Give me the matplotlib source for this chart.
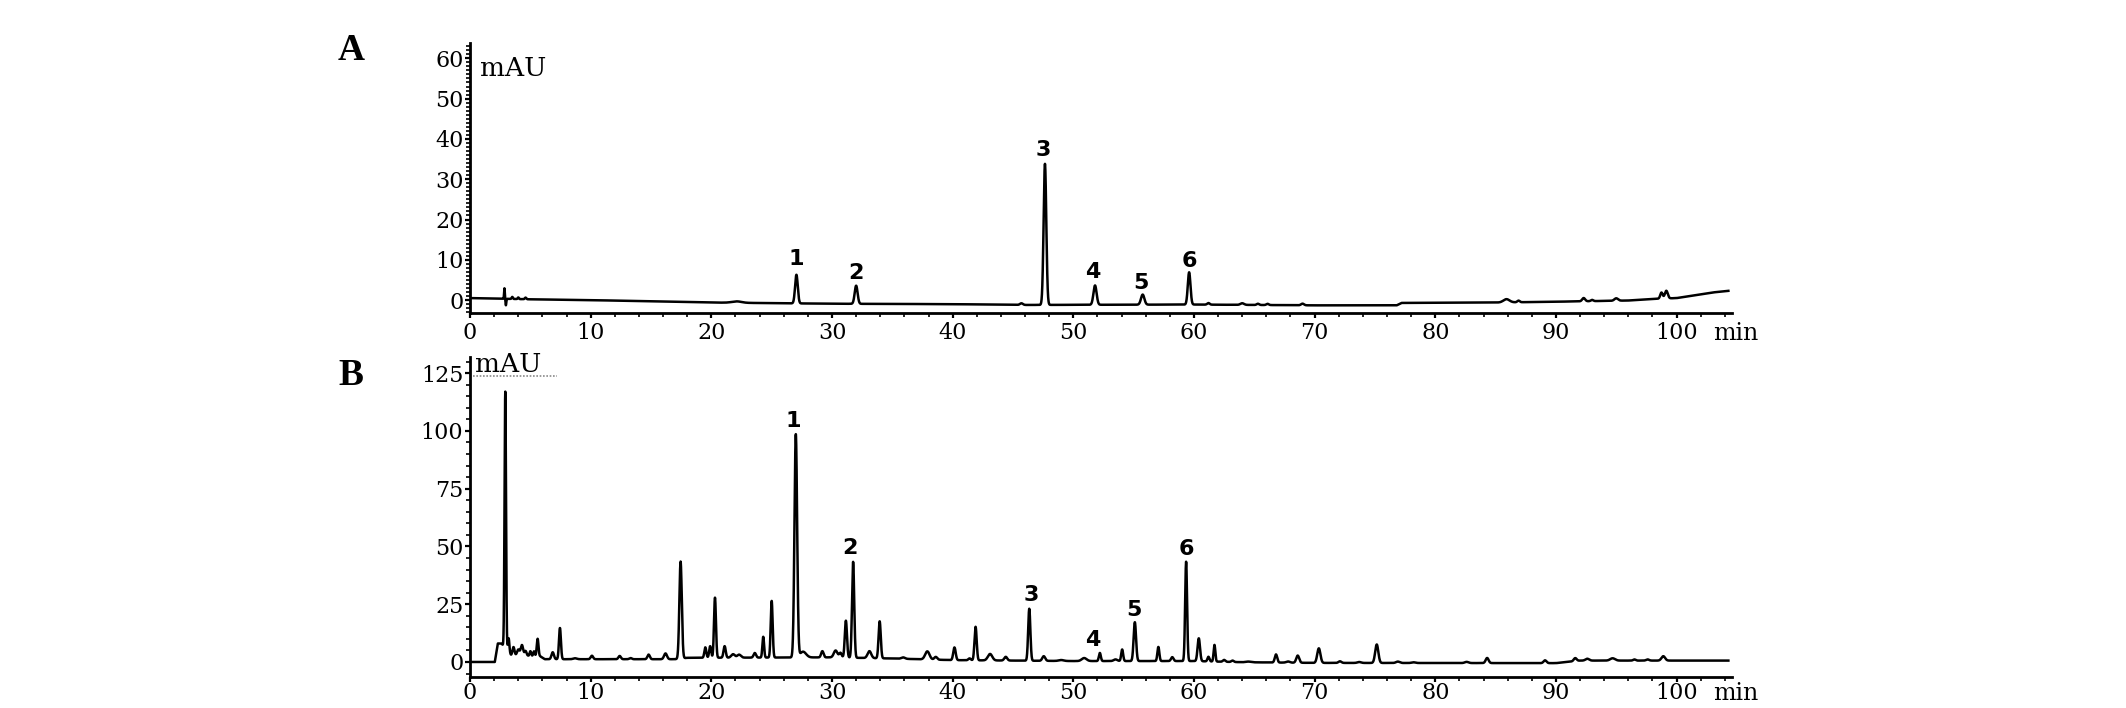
"""HPLC chromatograms: (A) mixed reference standards, (B) sample extract,
with the six marker compounds numbered on both traces.
"""

import matplotlib
matplotlib.use("Agg")
import matplotlib.pyplot as plt
import numpy as np
from matplotlib.lines import Line2D
from matplotlib.ticker import MultipleLocator

# ---- panel A: standards (retention time min, height mAU, sigma min) ----
A_RT = [2.85, 2.97, 3.5, 4.0, 4.6, 22.1, 27.05, 32.0, 45.7, 47.65, 51.8,
        55.75, 59.6, 61.2, 64.0, 65.3, 66.1, 69.0, 85.9, 86.9, 92.3, 93.0,
        95.0, 98.75, 99.15]
A_HEIGHT = [2.6, -1.6, 0.5, 0.4, 0.4, 0.35, 7.1, 4.5, 0.4, 35.0, 4.8,
            2.5, 8.0, 0.4, 0.4, 0.3, 0.3, 0.4, 0.8, 0.4, 0.8, 0.3,
            0.6, 1.5, 1.9]
A_WIDTH = [0.03, 0.03, 0.05, 0.05, 0.06, 0.4, 0.11, 0.12, 0.12, 0.11, 0.13,
           0.14, 0.11, 0.1, 0.15, 0.1, 0.1, 0.12, 0.25, 0.1, 0.12, 0.1,
           0.15, 0.1, 0.12]
A_BASE_T = [0, 5, 10, 20, 25, 30, 40, 46, 60, 70, 76.8, 77.2, 85, 90, 96,
            98, 100, 102, 103, 104.3]
A_BASE_Y = [0.5, 0.2, 0.0, -0.6, -0.75, -0.9, -1.0, -1.2, -1.1, -1.3, -1.3,
            -0.7, -0.6, -0.4, -0.1, 0.3, 0.5, 1.4, 1.9, 2.3]
A_LABEL_T = [27.0, 32.0, 47.5, 51.6, 55.6, 59.6]
A_LABEL_Y = [10.3, 6.8, 37.2, 7.0, 4.2, 9.8]

# ---- panel B: sample extract ----
B_RT = [2.92, 3.2, 3.6, 4.0, 4.3, 4.6, 5.0, 5.3, 5.6, 6.85, 7.45, 8.7, 10.1,
        12.4, 13.3, 14.8, 16.2, 17.45, 19.5, 19.9, 20.3, 21.1, 21.8, 22.3,
        23.6, 24.3, 25.0, 27.0, 27.6, 29.2, 30.3, 30.7, 31.15, 31.75, 33.1,
        33.95, 35.9, 37.9, 38.6, 40.15, 41.4, 41.9, 43.1, 44.4, 46.35, 47.55,
        49.0, 50.9, 52.2, 53.5, 54.05, 55.1, 57.05, 58.2, 59.35, 60.4, 61.2,
        61.7, 62.5, 63.2, 64.5, 66.8, 67.8, 68.6, 70.35, 72.1, 73.7, 75.15,
        76.9, 78.2, 82.6, 84.3, 89.1, 91.6, 92.6, 94.7, 96.5, 97.6, 98.9]
B_HEIGHT = [111, 6, 3.5, 2.5, 4.5, 2, 2, 2, 7.5, 3, 13.5, 0.4, 1.5,
            1.4, 0.5, 2, 2.5, 42, 4.5, 5, 26, 5, 1.5, 1.3,
            2, 9, 24.5, 96.5, 2.5, 2.7, 3, 2, 16, 41.5, 3,
            16, 0.6, 3.5, 1.2, 5.5, 0.8, 14.5, 2.8, 1.6, 22.5, 2.0,
            0.4, 1.3, 3.5, 0.7, 5, 16.8, 6.1, 1.7, 43, 9.9, 2,
            7.2, 0.8, 0.6, 0.3, 3.5, 0.5, 3.1, 6.3, 0.7, 0.4, 8.0,
            0.6, 0.3, 0.5, 2.2, 1.2, 1.3, 0.8, 1.0, 0.5, 0.5, 1.9]
B_WIDTH = [0.06, 0.06, 0.08, 0.1, 0.1, 0.08, 0.06, 0.06, 0.07, 0.1, 0.08,
           0.15, 0.1, 0.1, 0.1, 0.1, 0.12, 0.1, 0.08, 0.08, 0.08, 0.09, 0.15,
           0.15, 0.1, 0.07, 0.08, 0.11, 0.25, 0.1, 0.15, 0.1, 0.09, 0.09,
           0.15, 0.09, 0.15, 0.18, 0.12, 0.1, 0.1, 0.09, 0.18, 0.12, 0.09,
           0.12, 0.2, 0.2, 0.08, 0.15, 0.08, 0.1, 0.08, 0.1, 0.08, 0.1, 0.08,
           0.07, 0.1, 0.1, 0.2, 0.1, 0.15, 0.12, 0.13, 0.12, 0.15, 0.13,
           0.15, 0.15, 0.15, 0.12, 0.12, 0.12, 0.15, 0.2, 0.1, 0.12, 0.15]
B_BASE_T = [0, 2.05, 2.3, 2.6, 3.4, 5.8, 6.2, 17, 18, 30, 35, 40, 50, 60,
            64, 70, 90, 92, 104.3]
B_BASE_Y = [0, 0, 8, 8, 3, 2.5, 1.2, 1.2, 1.8, 2.0, 1.5, 0.8, 0.4, 0.4,
            -0.1, -0.4, -0.5, 0.6, 0.6]
B_LABEL_T = [26.8, 31.5, 46.5, 51.6, 55.0, 59.4]
B_LABEL_Y = [104.4, 49.2, 28.9, 9.5, 22.3, 49.0]

PEAK_NAMES = ["1", "2", "3", "4", "5", "6"]

SERIF = "DejaVu Serif"
SANS_BOLD = "DejaVu Sans"
TICK_SIZE = 16


def chromatogram(t, rt, height, width, base_t, base_y):
    y = np.interp(t, base_t, base_y)
    for r, h, w in zip(rt, height, width):
        y = y + h * np.exp(-0.5 * ((t - r) / w) ** 2)
    return y


def style_axis(ax, ylim, yticks, yminor, xpad):
    ax.set_xlim(0, 104.6)
    ax.set_ylim(*ylim)
    for side in ("top", "right"):
        ax.spines[side].set_visible(False)
    for side in ("left", "bottom"):
        ax.spines[side].set_linewidth(2.0)
    ax.xaxis.set_minor_locator(MultipleLocator(2))
    ax.yaxis.set_minor_locator(MultipleLocator(yminor))
    ax.tick_params(which="major", direction="out", length=3.8, width=1.6,
                   labelsize=TICK_SIZE, color="black")
    ax.tick_params(which="minor", direction="out", length=2.6, width=1.2)
    ax.tick_params(axis="x", pad=xpad)
    ax.tick_params(axis="y", pad=1.0)
    xt = list(range(0, 101, 10))
    ax.set_xticks(xt)
    ax.set_xticklabels([str(v) for v in xt], family=SERIF)
    ax.set_yticks(yticks)
    ax.set_yticklabels([str(v) for v in yticks], family=SERIF)
    ax.patch.set_alpha(0)
    ax.annotate("min", xy=(103.0, 0), xycoords=("data", "axes fraction"),
                xytext=(0, -(3.8 + xpad)), textcoords="offset points",
                ha="left", va="top", fontsize=17, family=SERIF)


def main():
    fig = plt.figure(figsize=(21.26, 7.08), dpi=100)

    t = np.arange(0, 104.3, 0.005)
    y_a = chromatogram(t, A_RT, A_HEIGHT, A_WIDTH, A_BASE_T, A_BASE_Y)
    y_b = chromatogram(t, B_RT, B_HEIGHT, B_WIDTH, B_BASE_T, B_BASE_Y)

    ax_a = fig.add_axes([0.2211, 0.5579, 0.5936, 0.3814])
    ax_a.plot(t, y_a, color="black", lw=1.8)
    style_axis(ax_a, (-3.2, 63.8), list(range(0, 61, 10)), 1, 3.0)
    for name, tx, ty in zip(PEAK_NAMES, A_LABEL_T, A_LABEL_Y):
        ax_a.text(tx, ty, name, ha="center", va="center", fontsize=16,
                  fontweight="bold", family=SANS_BOLD)
    ax_a.text(0.008, 0.878, "mAU", transform=ax_a.transAxes, ha="left",
              va="baseline", fontsize=19, family=SERIF)

    ax_b = fig.add_axes([0.2211, 0.0438, 0.5936, 0.4520])
    ax_b.plot(t, y_b, color="black", lw=1.8)
    style_axis(ax_b, (-6.5, 132), list(range(0, 126, 25)), 5, 0.0)
    for name, tx, ty in zip(PEAK_NAMES, B_LABEL_T, B_LABEL_Y):
        ax_b.text(tx, ty, name, ha="center", va="center", fontsize=16,
                  fontweight="bold", family=SANS_BOLD)
    ax_b.text(0.004, 0.953, "mAU", transform=ax_b.transAxes, ha="left",
              va="baseline", fontsize=19, family=SERIF)
    ax_b.add_line(Line2D([0.002, 0.069], [0.942, 0.942],
                         transform=ax_b.transAxes, color="#8a8a8a",
                         lw=1.2, ls=(0, (1, 1))))

    fig.text(0.159, 0.915, "A", ha="left", va="baseline", fontsize=27,
             fontweight="bold", family="Liberation Serif")
    fig.text(0.159, 0.456, "B", ha="left", va="baseline", fontsize=27,
             fontweight="bold", family="Liberation Serif")

    fig.savefig("out.png", dpi=100, facecolor="white")
    plt.close(fig)


if __name__ == "__main__":
    main()
